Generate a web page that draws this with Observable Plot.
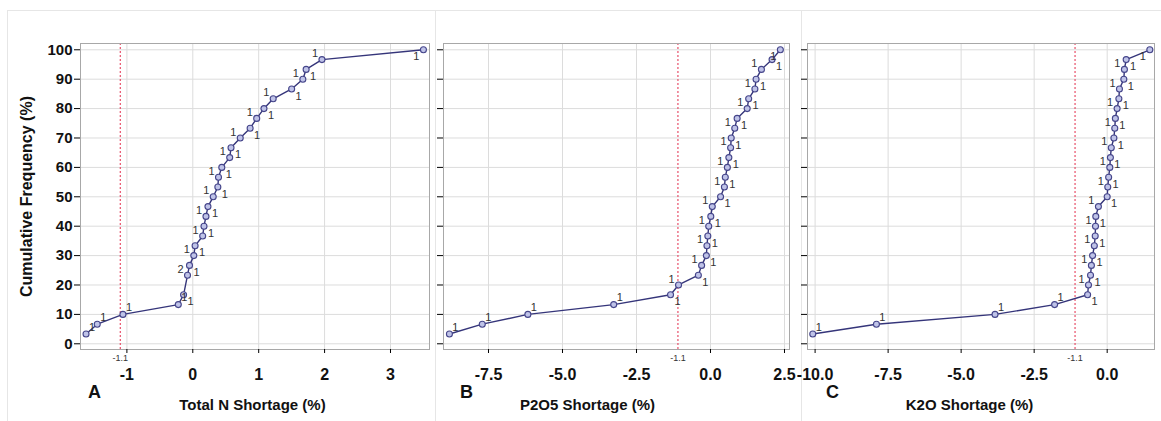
<!DOCTYPE html>
<html><head><meta charset="utf-8">
<script src="https://cdn.jsdelivr.net/npm/d3@7"></script>
<script src="https://cdn.jsdelivr.net/npm/@observablehq/plot@0.6"></script>
<style>
body{margin:0;background:#fff;}
#wrap{position:relative;width:1161px;height:421px;overflow:hidden;font-family:"Liberation Sans",Arial,sans-serif;}
.panel{position:absolute;top:0;}
.line{position:absolute;background:#e6e6e6;}
</style></head><body><div id="wrap"></div>
<script>
const yTicks = [0, 10, 20, 30, 40, 50, 60, 70, 80, 90, 100];
const yTitle = "Cumulative Frequency (%)";
const panelLetters = ["A", "B", "C"];
const xTitles = ["Total N Shortage (%)", "P2O5 Shortage (%)", "K2O Shortage (%)"];
const refValue = -1.1;

const aTicks = [-1, 0, 1, 2, 3];
const aShortage = [-1.62, -1.45, -1.06, -0.22, -0.14, -0.08, -0.05, 0.015, 0.035, 0.15, 0.17, 0.20, 0.23, 0.31, 0.38, 0.39, 0.44, 0.56, 0.58, 0.72, 0.87, 0.97, 1.08, 1.22, 1.50, 1.67, 1.72, 1.96, 3.50];
const aCumFreq = [3.33, 6.67, 10, 13.33, 16.67, 23.33, 26.67, 30, 33.33, 36.67, 40, 43.33, 46.67, 50, 53.33, 56.67, 60, 63.33, 66.67, 70, 73.33, 76.67, 80, 83.33, 86.67, 90, 93.33, 96.67, 100];
const aCount = [1, 1, 1, 1, 1, 2, 1, 1, 1, 1, 1, 1, 1, 1, 1, 1, 1, 1, 1, 1, 1, 1, 1, 1, 1, 1, 1, 1, 1];

const bTicks = [-7.5, -5.0, -2.5, 0.0, 2.5];
const bShortage = [-8.82, -7.71, -6.17, -3.27, -1.35, -1.08, -0.41, -0.30, -0.14, -0.12, -0.09, -0.06, 0.01, 0.06, 0.34, 0.47, 0.50, 0.57, 0.62, 0.68, 0.70, 0.82, 0.90, 1.24, 1.29, 1.50, 1.54, 1.72, 2.08, 2.36];
const bCumFreq = [3.33, 6.67, 10, 13.33, 16.67, 20, 23.33, 26.67, 30, 33.33, 36.67, 40, 43.33, 46.67, 50, 53.33, 56.67, 60, 63.33, 66.67, 70, 73.33, 76.67, 80, 83.33, 86.67, 90, 93.33, 96.67, 100];
const bCount = [1, 1, 1, 1, 1, 1, 1, 1, 1, 1, 1, 1, 1, 1, 1, 1, 1, 1, 1, 1, 1, 1, 1, 1, 1, 1, 1, 1, 1, 1];

const cTicks = [-10.0, -7.5, -5.0, -2.5, 0.0];
const cShortage = [-10.08, -7.90, -3.84, -1.80, -0.67, -0.64, -0.57, -0.54, -0.50, -0.44, -0.41, -0.40, -0.39, -0.30, 0.00, 0.02, 0.05, 0.09, 0.11, 0.14, 0.23, 0.26, 0.28, 0.34, 0.40, 0.42, 0.57, 0.59, 0.65, 1.46];
const cCumFreq = [3.33, 6.67, 10, 13.33, 16.67, 20, 23.33, 26.67, 30, 33.33, 36.67, 40, 43.33, 46.67, 50, 53.33, 56.67, 60, 63.33, 66.67, 70, 73.33, 76.67, 80, 83.33, 86.67, 90, 93.33, 96.67, 100];
const cCount = [1, 1, 1, 1, 1, 1, 1, 1, 1, 1, 1, 1, 1, 1, 1, 1, 1, 1, 1, 1, 1, 1, 1, 1, 1, 1, 1, 1, 1, 1];

function rows(xs, ys, ns) { return xs.map((x, i) => ({x, y: ys[i], n: ns[i], i, last: i === xs.length - 1})); }

function side(d) {
  if (d.i < 4) return "ur";
  if (d.last) return "ll";
  return d.i % 2 ? "ul" : "lr";
}
const offsets = {ur: [6, -7], ul: [-7, -6], lr: [7, 7], ll: [-7, 7]};

function panel(cfg) {
  const data = rows(cfg.xs, cfg.ys, cfg.ns);
  const labelMarks = Object.entries(offsets).map(([k, [dx, dy]]) =>
    Plot.text(data, {x: "x", y: "y", text: d => String(d.n), filter: d => side(d) === k, dx, dy, fontSize: 11, fill: "#333"}));
  return Plot.plot({
    width: cfg.width, height: 421,
    marginLeft: cfg.ml, marginRight: cfg.mr, marginTop: 43, marginBottom: 72,
    style: {fontFamily: "Liberation Sans, Arial, sans-serif", background: "transparent", overflow: "visible"},
    x: {domain: cfg.domain},
    y: {domain: [-1.94, 102.14]},
    marks: [
      Plot.gridX(cfg.ticks, {stroke: "#dcdcdc", strokeOpacity: 1}),
      Plot.gridY(yTicks, {stroke: "#dcdcdc", strokeOpacity: 1}),
      Plot.ruleX([refValue], {stroke: "#e8506a", strokeDasharray: "2,2", strokeWidth: 1.2}),
      Plot.frame({stroke: "#a8a8a8"}),
      Plot.axisX({ticks: cfg.ticks, tickFormat: cfg.fmt, tickSize: 4, tickPadding: 15, fontSize: 16, fontWeight: "bold", fill: "#111", label: null}),
      Plot.axisY({ticks: yTicks, tickSize: 6, tickPadding: 2, fontSize: 15, fontWeight: "bold", fill: "#111", label: null,
        tickFormat: cfg.showY ? (d => String(d)) : (() => "")}),
      Plot.text([refValue], {x: d => d, frameAnchor: "bottom", dy: 11, text: d => String(d), fontSize: 9, fill: "#333"}),
      Plot.line(data, {x: "x", y: "y", stroke: "#35357a", strokeWidth: 1.4}),
      Plot.dot(data, {x: "x", y: "y", r: 3, stroke: "#45458a", fill: "#bfc3e8", strokeWidth: 1.1}),
      ...labelMarks,
      Plot.text([cfg.letter], {frameAnchor: "bottom-left", dx: cfg.letterDx, dy: 48, fontSize: 18, fontWeight: "bold", fill: "#111", textAnchor: "middle"}),
      Plot.text([cfg.title], {frameAnchor: "bottom-left", dx: cfg.titleDx, dy: 60, fontSize: 15, fontWeight: "bold", fill: "#111", textAnchor: "middle"}),
      ...(cfg.showY ? [Plot.text([yTitle], {frameAnchor: "left", dx: -54, rotate: -90, textAnchor: "middle", fontSize: 16, fontWeight: "bold", fill: "#111"})] : [])
    ]
  });
}

const wrap = document.getElementById("wrap");
const cfgs = [
  {left: 0, width: 435, ml: 80, mr: 6, domain: [-1.704, 3.592], ticks: aTicks, fmt: d => String(d), showY: true,
   xs: aShortage, ys: aCumFreq, ns: aCount, letter: panelLetters[0], letterDx: 14, title: xTitles[0], titleDx: 172},
  {left: 435, width: 366, ml: 8, mr: 12, domain: [-9.02, 2.669], ticks: bTicks, fmt: d => d.toFixed(1), showY: false,
   xs: bShortage, ys: bCumFreq, ns: bCount, letter: panelLetters[1], letterDx: 23, title: xTitles[1], titleDx: 144},
  {left: 801, width: 360, ml: 6, mr: 7, domain: [-10.26, 1.62], ticks: cTicks, fmt: d => d.toFixed(1), showY: false,
   xs: cShortage, ys: cCumFreq, ns: cCount, letter: panelLetters[2], letterDx: 25, title: xTitles[2], titleDx: 162}
];
[[7, 10, 1154, 1], [7, 10, 1, 411], [435, 10, 1, 411], [801, 10, 1, 411]].forEach(([l, t, w, h]) => {
  const d = document.createElement("div"); d.className = "line";
  Object.assign(d.style, {left: l + "px", top: t + "px", width: w + "px", height: h + "px"});
  wrap.appendChild(d);
});
cfgs.forEach(c => {
  const el = panel(c);
  el.classList.add("panel");
  el.style.left = c.left + "px";
  wrap.appendChild(el);
});
</script></body></html>
